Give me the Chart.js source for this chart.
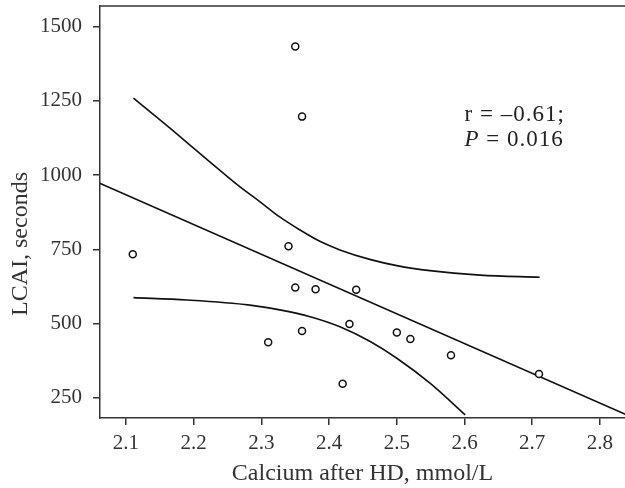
<!DOCTYPE html>
<html>
<head>
<meta charset="utf-8">
<script src="https://cdn.jsdelivr.net/npm/chart.js@4.4.1/dist/chart.umd.min.js"></script>
<style>
  body { margin: 0; background: #fff; }
  canvas { display: block; }
</style>
</head>
<body>
<canvas id="chartLcai" width="625" height="488"></canvas>
<script>
// values
const calcium = [2.35, 2.36, 2.11, 2.34, 2.35, 2.38, 2.44, 2.36, 2.31, 2.43, 2.50, 2.52, 2.58, 2.71, 2.42];
const lcai = [1433, 1197, 733, 760, 621, 615, 614, 475, 437, 498, 470, 448, 393, 330, 297];

const fitX = [2.06, 2.84];
const fitY = [974, 192];

const upperX = [2.111, 2.165, 2.219, 2.268, 2.298, 2.327, 2.357, 2.387, 2.416, 2.46, 2.50, 2.549, 2.623, 2.711];
const upperY = [1259, 1158, 1054, 961, 910, 859, 815, 776, 748, 716, 695, 678, 663, 656];

const lowerX = [2.111, 2.19, 2.283, 2.327, 2.372, 2.416, 2.46, 2.50, 2.549, 2.601];
const lowerY = [587, 579, 562, 546, 523, 489, 440, 383, 299, 192];

const xTicks = [2.1, 2.2, 2.3, 2.4, 2.5, 2.6, 2.7, 2.8];
const yTicks = [250, 500, 750, 1000, 1250, 1500];

const yTitle = 'LCAI, seconds';
const statLines = ['r = \u20130.61;', 'P = 0.016'];

const fontFamily = '"Liberation Serif", "Times New Roman", serif';
const ink = '#333';

function toPoints(xs, ys) {
  const pts = [];
  for (let i = 0; i < xs.length; i++) {
    pts.push({ x: xs[i], y: ys[i] });
  }
  return pts;
}

function lineSet(xs, ys) {
  return {
    data: toPoints(xs, ys),
    showLine: true,
    pointRadius: 0,
    borderColor: '#111',
    borderWidth: 1.6,
    cubicInterpolationMode: 'monotone'
  };
}

const framePlugin = {
  id: 'frame',
  afterDraw(chart) {
    const ctx = chart.ctx;
    const area = chart.chartArea;
    ctx.save();
    ctx.strokeStyle = ink;
    ctx.lineWidth = 1.5;
    ctx.beginPath();
    ctx.moveTo(area.left, area.top);
    ctx.lineTo(area.right, area.top);
    ctx.stroke();

    // y axis title, sits a bit below the middle in the original
    ctx.fillStyle = ink;
    ctx.font = '24px ' + fontFamily;
    ctx.textAlign = 'center';
    ctx.textBaseline = 'middle';
    ctx.translate(21, 244);
    ctx.rotate(-Math.PI / 2);
    ctx.fillText(yTitle, 0, 0);
    ctx.restore();

    // r and P annotation
    ctx.save();
    const x = chart.scales.x.getPixelForValue(2.6);
    const y1 = chart.scales.y.getPixelForValue(1182);
    const y2 = chart.scales.y.getPixelForValue(1098);
    ctx.fillStyle = '#222';
    ctx.textBaseline = 'alphabetic';
    ctx.letterSpacing = '1px';
    ctx.font = '23px ' + fontFamily;
    ctx.fillText(statLines[0], x, y1);
    ctx.font = 'italic 23px ' + fontFamily;
    ctx.fillText('P', x, y2);
    const pw = ctx.measureText('P ').width;
    ctx.font = '23px ' + fontFamily;
    ctx.fillText(statLines[1].slice(2), x + pw, y2);
    ctx.restore();
  }
};

const canvas = document.getElementById('chartLcai');
new Chart(canvas, {
  type: 'scatter',
  data: {
    datasets: [
      {
        data: toPoints(calcium, lcai),
        pointRadius: 3.5,
        pointBorderWidth: 1.5,
        pointBackgroundColor: '#fff',
        pointBorderColor: '#111',
        showLine: false
      },
      lineSet(fitX, fitY),
      lineSet(upperX, upperY),
      lineSet(lowerX, lowerY)
    ]
  },
  options: {
    responsive: false,
    animation: false,
    layout: { autoPadding: false, padding: { top: 6, right: 0, bottom: 0, left: 0 } },
    plugins: {
      legend: { display: false },
      tooltip: { enabled: false }
    },
    scales: {
      x: {
        type: 'linear',
        min: 2.0616,
        max: 2.837,
        afterBuildTicks: s => { s.ticks = xTicks.map(v => ({ value: v })); },
        afterFit: s => {
          s.height = 70;
          s.paddingLeft = 0;
          s.paddingRight = 0;
        },
        grid: { display: true, drawOnChartArea: false, drawTicks: true, tickLength: 7, color: ink, lineWidth: 1.5 },
        border: { display: true, color: ink, width: 1.5 },
        ticks: {
          padding: 6,
          color: ink,
          font: { family: fontFamily, size: 21 },
          callback: v => v.toFixed(1),
          maxRotation: 0
        },
        title: {
          display: true,
          text: 'Calcium after HD, mmol/L',
          color: ink,
          font: { family: fontFamily, size: 24 },
          padding: { top: 0, bottom: 0 }
        }
      },
      y: {
        type: 'linear',
        min: 181.6,
        max: 1569.7,
        afterBuildTicks: s => { s.ticks = yTicks.map(v => ({ value: v })); },
        afterFit: s => {
          s.width = 100;
          s.paddingTop = 0;
          s.paddingBottom = 0;
        },
        grid: { display: true, drawOnChartArea: false, drawTicks: true, tickLength: 7, color: ink, lineWidth: 1.5 },
        border: { display: true, color: ink, width: 1.5 },
        ticks: {
          padding: 11,
          color: ink,
          font: { family: fontFamily, size: 21 },
          callback: v => String(v)
        }
      }
    }
  },
  plugins: [framePlugin]
});
</script>
</body>
</html>
